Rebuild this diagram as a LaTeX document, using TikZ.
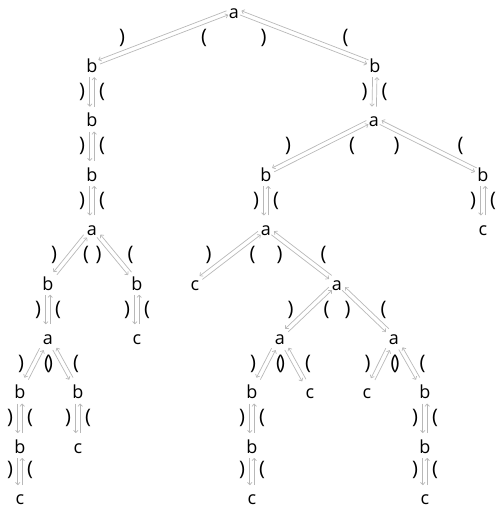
\documentclass[tikz,border=0pt]{standalone}
\usepackage{fontspec}
\setmainfont{Open Sans}
\usetikzlibrary{calc,arrows.meta}
\tikzset{
  st/.style={font=\fontsize{18}{20}\selectfont, text height=19pt, text depth=3.6pt,
    inner xsep=1.5pt, inner ysep=1pt, anchor=base},
  stlast/.style={st, text depth=0pt, inner ysep=0pt},
  lb/.style={font=\fontsize{20}{22}\selectfont, inner sep=0pt},
  arr/.style={draw=black!28, line width=0.7pt, -{To[length=3pt,width=5pt]}},
}
\newcommand\biedge[3]{%
  \path (#1) -- (#2) coordinate[pos=0] (bs) coordinate[pos=1] (be);
  \draw[arr] ($(bs)!2.2pt!-90:(be)$) -- ($(be)!2.2pt!90:(bs)$);
  \draw[arr] ($(be)!2.2pt!-90:(bs)$) -- ($(bs)!2.2pt!90:(be)$);
  \node[lb] (#1#2l) at ($(#1)!0.5!(#2)+(-#3,0)$) {)};
  \node[lb] (#1#2r) at ($(#1)!0.5!(#2)+(#3,0)$) {(};
}
\begin{document}
\begin{tikzpicture}[x=1pt,y=1pt]
\useasboundingbox (0,0) rectangle (498,-509);
% row 0
\node[st] (n0) at (234,-18) {a};
% row 1
\node[st] (n1) at (92,-72.4) {b};
\node[st] (m1) at (375,-72.4) {b};
% row 2
\node[st] (n2) at (92,-126.8) {b};
\node[st] (m2) at (374,-126.8) {a};
% row 3
\node[st] (n3) at (92,-181.2) {b};
\node[st] (m3) at (266,-181.2) {b};
\node[st] (m4) at (483,-181.2) {b};
% row 4
\node[st] (n4) at (92,-235.6) {a};
\node[st] (m6) at (266,-235.6) {a};
\node[st] (m5) at (483,-235.6) {c};
% row 5
\node[st] (n5) at (48,-290) {b};
\node[st] (n6) at (137,-290) {b};
\node[st] (m7) at (195,-290) {c};
\node[st] (m8) at (337,-290) {a};
% row 6
\node[st] (n8) at (48,-344.4) {a};
\node[st] (n7) at (137,-344.4) {c};
\node[st] (m9) at (280,-344.4) {a};
\node[st] (m10) at (394,-344.4) {a};
% row 7
\node[st] (n9) at (20,-398.8) {b};
\node[st] (n10) at (78,-398.8) {b};
\node[st] (m11) at (252,-398.8) {b};
\node[st] (m12) at (310,-398.8) {c};
\node[st] (m13) at (367,-398.8) {c};
\node[st] (m14) at (425,-398.8) {b};
% row 8
\node[st] (n11) at (20,-453.2) {b};
\node[st] (n12) at (78,-453.2) {c};
\node[st] (m15) at (252,-453.2) {b};
\node[st] (m16) at (425,-453.2) {b};
% row 9
\node[stlast] (n13) at (20,-504.3) {c};
\node[stlast] (m17) at (252,-504.3) {c};
\node[stlast] (m18) at (425,-504.3) {c};
% edges
\biedge{n0}{n1}{41}
\biedge{n0}{m1}{41}
\biedge{n1}{n2}{10}
\biedge{n2}{n3}{10}
\biedge{n3}{n4}{10}
\biedge{n4}{n5}{16}
\biedge{n4}{n6}{16}
\biedge{n5}{n8}{10}
\biedge{n6}{n7}{10}
\biedge{n8}{n9}{13}
\biedge{n8}{n10}{13}
\biedge{n9}{n11}{10}
\biedge{n10}{n12}{10}
\biedge{n11}{n13}{10}
\biedge{m1}{m2}{10}
\biedge{m2}{m3}{32}
\biedge{m2}{m4}{32}
\biedge{m4}{m5}{10}
\biedge{m3}{m6}{10}
\biedge{m6}{m7}{22}
\biedge{m6}{m8}{22}
\biedge{m8}{m9}{18}
\biedge{m8}{m10}{18}
\biedge{m9}{m11}{13}
\biedge{m9}{m12}{13}
\biedge{m10}{m13}{13}
\biedge{m10}{m14}{13}
\biedge{m11}{m15}{10}
\biedge{m15}{m17}{10}
\biedge{m14}{m16}{10}
\biedge{m16}{m18}{10}
\end{tikzpicture}
\end{document}
